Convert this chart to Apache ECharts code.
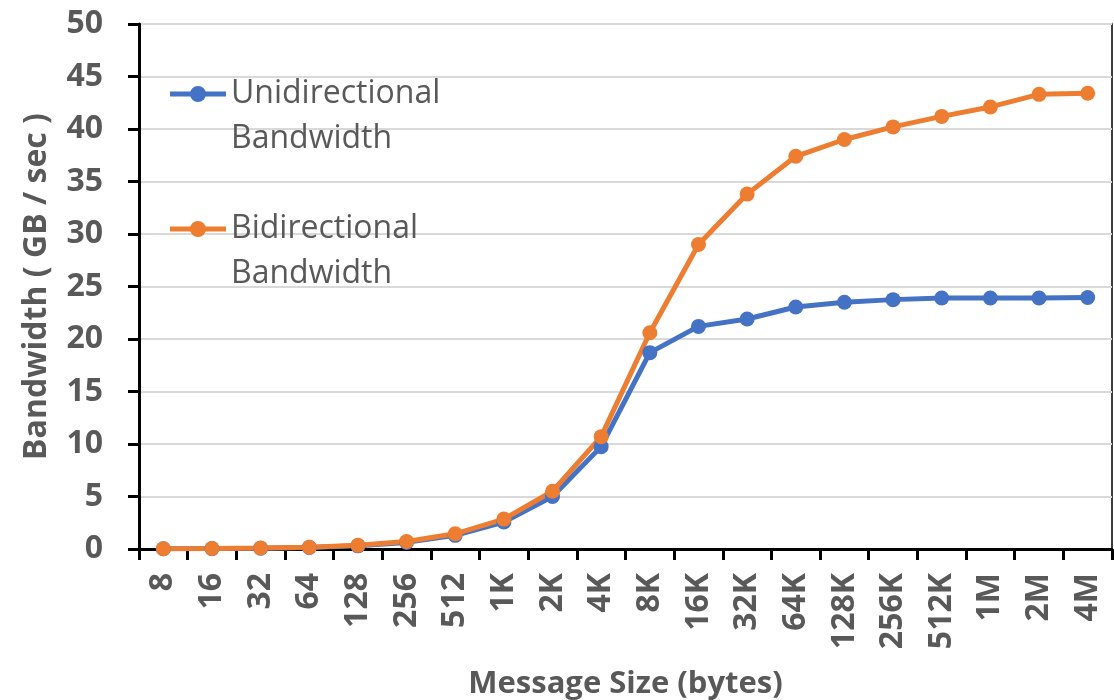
<!DOCTYPE html>
<html>
<head>
<meta charset="utf-8">
<script src="https://cdn.jsdelivr.net/npm/echarts@6/dist/echarts.min.js"></script>
<style>html,body{margin:0;padding:0;background:#fff}#c{width:1114px;height:700px}</style>
</head>
<body>
<div id="c"></div>
<script>
const categories = ['8','16','32','64','128','256','512','1K','2K','4K','8K','16K','32K','64K','128K','256K','512K','1M','2M','4M'];
const unidirectional = [0.02,0.04,0.08,0.15,0.3,0.63,1.3,2.57,5.0,9.75,18.7,21.2,21.9,23.05,23.5,23.75,23.9,23.9,23.9,23.95];
const bidirectional = [0.02,0.05,0.09,0.17,0.35,0.72,1.45,2.85,5.5,10.7,20.6,29.0,33.8,37.4,39.0,40.2,41.2,42.1,43.3,43.4];
const yTicks = {min:0, max:50, interval:5};

const FONT = '"Open Sans"';
const legendIcon = 'path://M0,5.5 L56,5.5 L56,10.5 L0,10.5 Z M20,8 A8,8 0 1 1 36,8 A8,8 0 1 1 20,8 Z';
const chart = echarts.init(document.getElementById('c'), null, {renderer:'canvas'});
chart.setOption({
  animation:false,
  backgroundColor:'#fff',
  grid:{left:139, right:2, top:24, bottom:151, containLabel:false, outerBoundsMode:'none',
        show:true, borderColor:'#000', borderWidth:1.5, backgroundColor:'transparent'},
  legend:{
    orient:'vertical', left:170, top:33, padding:0,
    itemWidth:56, itemHeight:16, itemGap:13, icon:legendIcon,
    data:['Unidirectional Bandwidth','Bidirectional Bandwidth'],
    formatter:n=>{const p=n.split(' ');return '{pad| }\n{a|'+p[0]+'}\n{a|'+p[1]+'}';},
    textStyle:{fontFamily:FONT, fontSize:32, color:'#595959',
      rich:{pad:{fontSize:32, lineHeight:45, fontFamily:FONT}, a:{fontFamily:FONT, fontSize:32, color:'#595959', lineHeight:45}}}
  },
  xAxis:{
    type:'category', data:categories, boundaryGap:true,
    name:'Message Size (bytes)', nameLocation:'middle', nameGap:120,
    nameTextStyle:{fontFamily:FONT, fontSize:31, fontWeight:'bold', color:'#595959'},
    axisLine:{lineStyle:{color:'#000', width:3}},
    axisTick:{show:true, length:11, lineStyle:{color:'#000', width:3}, alignWithLabel:false},
    axisLabel:{rotate:90, margin:24, fontFamily:FONT, fontSize:32, fontWeight:'bold', color:'#595959', interval:0},
    splitLine:{show:false}
  },
  yAxis:{
    type:'value', min:yTicks.min, max:yTicks.max, interval:yTicks.interval,
    name:'Bandwidth ( GB / sec )', nameLocation:'middle', nameGap:86,
    nameTextStyle:{fontFamily:FONT, fontSize:32, fontWeight:'bold', color:'#595959'},
    axisLine:{show:true, lineStyle:{color:'#000', width:3}},
    axisTick:{show:true, length:11, lineStyle:{color:'#000', width:3}},
    axisLabel:{margin:36, fontFamily:FONT, fontSize:32, fontWeight:'bold', color:'#595959'},
    splitLine:{show:true, lineStyle:{color:'#d9d9d9', width:2}}
  },
  series:[
    {name:'Unidirectional Bandwidth', type:'line', data:unidirectional, color:'#4472C4',
     symbol:'circle', symbolSize:15, lineStyle:{width:5}, itemStyle:{color:'#4472C4'}},
    {name:'Bidirectional Bandwidth', type:'line', data:bidirectional, color:'#ED7D31',
     symbol:'circle', symbolSize:15, lineStyle:{width:5}, itemStyle:{color:'#ED7D31'}}
  ]
});
</script>
</body>
</html>
